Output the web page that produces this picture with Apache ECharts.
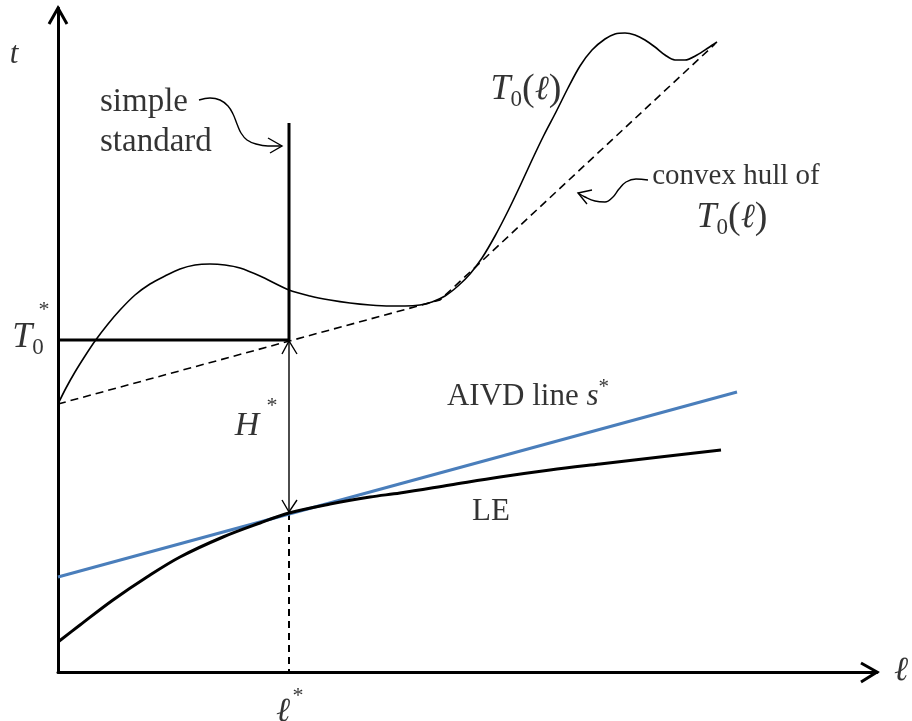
<!DOCTYPE html>
<html>
<head>
<meta charset="utf-8">
<script src="https://cdn.jsdelivr.net/npm/echarts@6/dist/echarts.min.js"></script>
<style>
  html, body { margin: 0; padding: 0; background: #fff; }
  #main { width: 912px; height: 721px; }
</style>
</head>
<body>
<div id="main"></div>
<script>
// ---- curve samples (ℓ to the right, t upward, axis units) ----
const t0L = [0, 8, 17, 27, 37, 50, 62, 77, 92, 107, 122, 137, 152, 167, 182, 202, 231, 252, 272, 292, 312, 332, 347, 362, 374, 387, 400, 412, 424, 437, 450, 462, 474, 486, 498, 510, 522, 534, 547, 557, 567, 577, 587, 597, 607, 617, 627, 639, 650, 659];
const t0T = [268, 284, 300, 316, 331, 348, 362, 377, 388, 396, 403, 407, 408, 407, 404, 396, 382, 376, 372, 369, 367, 366, 366, 367, 370, 376, 386, 398, 414, 436, 461, 486, 512, 537, 560, 584, 606, 622, 633, 638, 639, 637, 632, 625, 617, 612, 612, 617, 624, 630];

// convex hull of T0(ℓ)
const hullL = [0, 382, 657];
const hullT = [268, 372, 628];

// life expectancy curve LE
const leL = [0, 22, 55, 89, 122, 165, 202, 231, 272, 312, 342, 392, 442, 492, 542, 602, 663];
const leT = [30, 47, 72, 95, 115, 135, 149, 159, 168, 175, 179, 187, 195, 202, 208, 215, 222];

// AIVD line s*
const aivdL = [0, 679];
const aivdT = [95, 280];

// simple standard and the optimum
const lStar = 231;
const t0Star = 332;
const standardTop = 549;
const leAtStar = 159;

// axis extents
const lMax = 819;
const tMax = 664;

const zip = (xs, ys) => xs.map((x, i) => [x, ys[i]]);

// ---- decoration geometry (arrowheads and curly pointers) ----
const yAxisHead = [[-9, 648], [0, tMax], [9, 648]];
const xAxisHead = [[803, 9], [lMax, 0], [803, -10]];
const hTopHead = [[lStar - 7, t0Star - 14], [lStar, t0Star - 1], [lStar + 8, t0Star - 14]];
const hBotHead = [[lStar - 7, leAtStar + 13], [lStar, leAtStar + 1], [lStar + 8, leAtStar + 13]];
const stdPointer = [[141, 572], [152, 574], [162, 572], [170, 566], [175, 558], [179, 548], [183, 539], [189, 532], [198, 528], [210, 526], [224, 526]];
const stdPointerHead = [[210, 534], [224, 526], [212, 519]];
const hullPointer = [[590, 492], [578, 493], [568, 490], [561, 483], [555, 475], [547, 470], [537, 471], [527, 475], [520, 479]];
const hullPointerHead = [[534, 482], [520, 479], [529, 468]];

const FONT = "'Liberation Serif','Times New Roman',serif";
const BLACK = '#000';

function line(data, width, extra) {
  return Object.assign({
    type: 'line',
    data: data,
    symbol: 'none',
    clip: false,
    silent: true,
    lineStyle: { color: BLACK, width: width },
    z: 3
  }, extra || {});
}

// open arrowhead drawn as one polyline through the axis scales
function head(points, width) {
  return {
    type: 'custom',
    data: points,
    clip: false,
    silent: true,
    z: 6,
    renderItem: function (params, api) {
      if (params.dataIndex !== 0) return null;
      return {
        type: 'polyline',
        shape: { points: points.map(function (p) { return api.coord(p); }) },
        style: { stroke: BLACK, lineWidth: width, fill: null, lineJoin: 'miter' }
      };
    }
  };
}

function rs(size, more) {
  return Object.assign({ fontFamily: FONT, fontSize: size, color: BLACK }, more || {});
}

const rich = {
  T: rs(36, { fontStyle: 'italic', lineHeight: 42 }),
  H: rs(34, { fontStyle: 'italic', lineHeight: 40 }),
  sub: rs(23, { verticalAlign: 'bottom', lineHeight: 24 }),
  par: rs(38, { lineHeight: 42 }),
  ell: rs(34, { fontStyle: 'italic', lineHeight: 42 }),
  n: rs(31, { lineHeight: 40 }),
  it: rs(31, { fontStyle: 'italic', lineHeight: 40 }),
  sup: rs(21, { verticalAlign: 'top', lineHeight: 18 }),
  star: rs(22)
};

function note(pos, formatter, extra) {
  return {
    value: pos,
    label: Object.assign({ show: true, formatter: formatter, rich: rich }, extra || {})
  };
}

const notes = [
  note([-44, 617], '{it|t}', {}),
  note([42, 550], 'simple\nstandard', { align: 'left', fontSize: 33, lineHeight: 40 }),
  note([-30, 334], '{T|T}{sub|0}', {}),
  note([-14, 362], '{star|*}', {}),
  note([189, 246], '{H|H}', {}),
  note([214, 266], '{star|*}', {}),
  note([468, 582], '{T|T}{sub|0}{par|(}{ell|ℓ}{par|)}', {}),
  note([678, 496], 'convex hull of', { fontSize: 29 }),
  note([674, 454], '{T|T}{sub|0}{par|(}{ell|ℓ}{par|)}', {}),
  note([470, 275], '{n|AIVD line }{it|s}{sup|*}', {}),
  note([433, 160], 'LE', { fontSize: 31 }),
  note([843, 1], '{ell|ℓ}', {}),
  note([225, -40], '{ell|ℓ}', {}),
  note([240, -24], '{star|*}', {})
];

const chart = echarts.init(document.getElementById('main'), null, { renderer: 'canvas' });

chart.setOption({
  animation: false,
  backgroundColor: '#fff',
  grid: { left: 58, top: 8, width: lMax, height: tMax, containLabel: false, outerBoundsMode: 'none' },
  xAxis: {
    type: 'value', min: 0, max: lMax,
    axisLine: { show: true, lineStyle: { color: BLACK, width: 3 } },
    axisTick: { show: false }, axisLabel: { show: false }, splitLine: { show: false }
  },
  yAxis: {
    type: 'value', min: 0, max: tMax,
    axisLine: { show: true, lineStyle: { color: BLACK, width: 3 } },
    axisTick: { show: false }, axisLabel: { show: false }, splitLine: { show: false }
  },
  series: [
    // axis arrowheads
    head(yAxisHead, 3),
    head(xAxisHead, 3),
    // T0(ℓ)
    line(zip(t0L, t0T), 1.6, { smooth: 0.3 }),
    // convex hull
    line(zip(hullL, hullT), 1.6, { lineStyle: { color: BLACK, width: 1.6, type: [8, 5] } }),
    // AIVD line
    line(zip(aivdL, aivdT), 3, { lineStyle: { color: '#4a7ebb', width: 3 }, z: 4 }),
    // LE
    line(zip(leL, leT), 3, { smooth: 0.35, z: 5 }),
    // simple standard
    line([[0, t0Star], [lStar, t0Star], [lStar, standardTop]], 3),
    // H* double arrow
    line([[lStar, t0Star], [lStar, leAtStar]], 1.4),
    head(hTopHead, 1.4),
    head(hBotHead, 1.4),
    // ℓ* drop line
    line([[lStar, leAtStar], [lStar, 0]], 2, { lineStyle: { color: BLACK, width: 2, type: [7, 5] } }),
    // curly pointers
    line(stdPointer, 1.4, { smooth: 0.4 }),
    head(stdPointerHead, 1.4),
    line(hullPointer, 1.4, { smooth: 0.4 }),
    head(hullPointerHead, 1.4),
    // text annotations
    {
      type: 'scatter',
      data: notes,
      symbol: 'circle',
      symbolSize: 1,
      itemStyle: { color: 'rgba(0,0,0,0)' },
      clip: false,
      silent: true,
      z: 10,
      label: {
        show: true,
        position: 'inside',
        fontFamily: FONT,
        fontSize: 32,
        color: BLACK
      }
    }
  ]
});
</script>
</body>
</html>
